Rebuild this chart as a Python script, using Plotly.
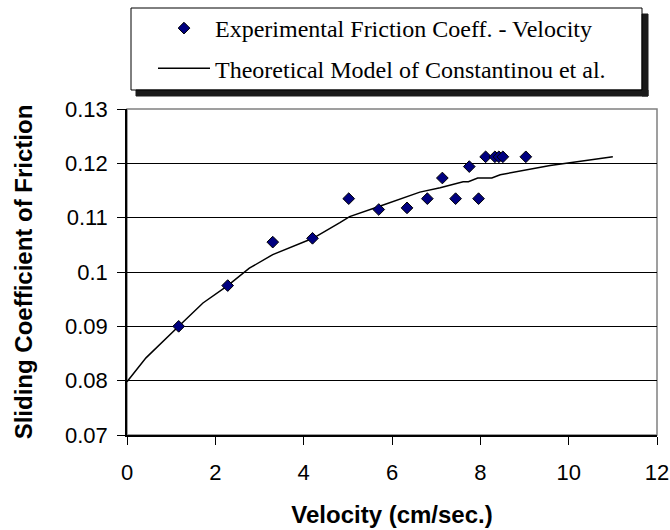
import plotly.graph_objects as go

# ---- data ----
exp_velocity = [1.17, 2.28, 3.30, 4.20, 5.02, 5.70, 6.34, 6.80, 7.14, 7.44, 7.75, 7.96, 8.12, 8.33, 8.42, 8.51, 9.03]
exp_friction = [0.0900, 0.0975, 0.1055, 0.1062, 0.1135, 0.1115, 0.1118, 0.1135, 0.1173, 0.1135, 0.1194, 0.1135, 0.1212, 0.1212, 0.1212, 0.1212, 0.1212]

model_velocity = [0.0, 0.43, 1.17, 1.72, 2.28, 2.77, 3.30, 4.21, 4.82, 5.04, 5.72, 6.63, 7.09, 7.61, 7.73, 7.94, 8.26, 8.45, 9.58, 10.26, 11.0]
model_friction = [0.0798, 0.0842, 0.0900, 0.0943, 0.0975, 0.1007, 0.1032, 0.1062, 0.1091, 0.1102, 0.1121, 0.1147, 0.1155, 0.1166, 0.1166, 0.1173, 0.1173, 0.1179, 0.1196, 0.1204, 0.1212]

x_ticks = [0, 2, 4, 6, 8, 10, 12]
y_ticks = [0.07, 0.08, 0.09, 0.10, 0.11, 0.12, 0.13]
y_tick_text = ["0.07", "0.08", "0.09", "0.1", "0.11", "0.12", "0.13"]

# ---- layout geometry (pixels) ----
W, H = 670, 530
L, R, T, B = 127, 13, 109, 95
PW, PH = W - L - R, H - T - B


def px(xp):
    return (xp - L) / PW


def py(yp):
    return (H - B - yp) / PH


fig = go.Figure()

fig.add_trace(go.Scatter(
    x=model_velocity, y=model_friction, mode="lines",
    name="Theoretical Model of Constantinou et al.",
    line=dict(color="black", width=1.5),
    legendrank=2, legendgroup="b",
))
fig.add_trace(go.Scatter(
    x=exp_velocity, y=exp_friction, mode="markers",
    name="Experimental Friction Coeff. - Velocity",
    marker=dict(symbol="diamond", size=9, color="#000080",
                line=dict(color="black", width=1)),
    legendrank=1, legendgroup="a",
))

SHADOW = "#1a1a1a"
shapes = [
    # legend shadow (right and bottom strips)
    dict(type="rect", xref="paper", yref="paper",
         x0=px(642), x1=px(648), y0=py(96), y1=py(14),
         fillcolor=SHADOW, line=dict(color=SHADOW, width=1), layer="above"),
    dict(type="rect", xref="paper", yref="paper",
         x0=px(136), x1=px(648), y0=py(96), y1=py(90),
         fillcolor=SHADOW, line=dict(color=SHADOW, width=1), layer="above"),
    # legend box outline
    dict(type="rect", xref="paper", yref="paper",
         x0=px(131), x1=px(642), y0=py(90), y1=py(8),
         line=dict(color="black", width=1), layer="above"),
    # plot-area border
    dict(type="rect", xref="paper", yref="paper",
         x0=0, x1=1, y0=0, y1=1,
         line=dict(color="#808080", width=1.5), layer="below"),
]

fig.update_layout(
    width=W, height=H,
    margin=dict(l=L, r=R, t=T, b=B, autoexpand=False),
    paper_bgcolor="white", plot_bgcolor="white",
    legend=dict(
        x=px(153), y=py(6), xanchor="left", yanchor="top",
        bgcolor="rgba(255,255,255,0)", borderwidth=0,
        font=dict(family="Liberation Serif", size=24, color="black"),
        itemwidth=52, tracegroupgap=6,
    ),
    shapes=shapes,
)

fig.update_xaxes(
    range=[0, 12], tickvals=x_ticks, ticktext=[str(v) for v in x_ticks],
    showgrid=False, zeroline=False,
    showline=True, linecolor="black", linewidth=1.5,
    ticks="outside", ticklen=8, tickcolor="black", tickwidth=1,
    ticklabelstandoff=9,
    tickfont=dict(family="Liberation Sans", size=22, color="black"),
    title=dict(text="<b>Velocity (cm/sec.)</b>", standoff=22,
               font=dict(family="Liberation Sans", size=24, color="black")),
)
fig.update_yaxes(
    range=[0.07, 0.13], tickvals=y_ticks, ticktext=y_tick_text,
    showgrid=True, gridcolor="black", gridwidth=1, zeroline=False,
    showline=True, linecolor="black", linewidth=1.5,
    ticks="outside", ticklen=8, tickcolor="black", tickwidth=1,
    ticklabelstandoff=5,
    tickfont=dict(family="Liberation Sans", size=22, color="black"),
    title=dict(text="<b>Sliding Coefficient of Friction</b>", standoff=26,
               font=dict(family="Liberation Sans", size=24, color="black")),
)

fig.write_html("out.html")
